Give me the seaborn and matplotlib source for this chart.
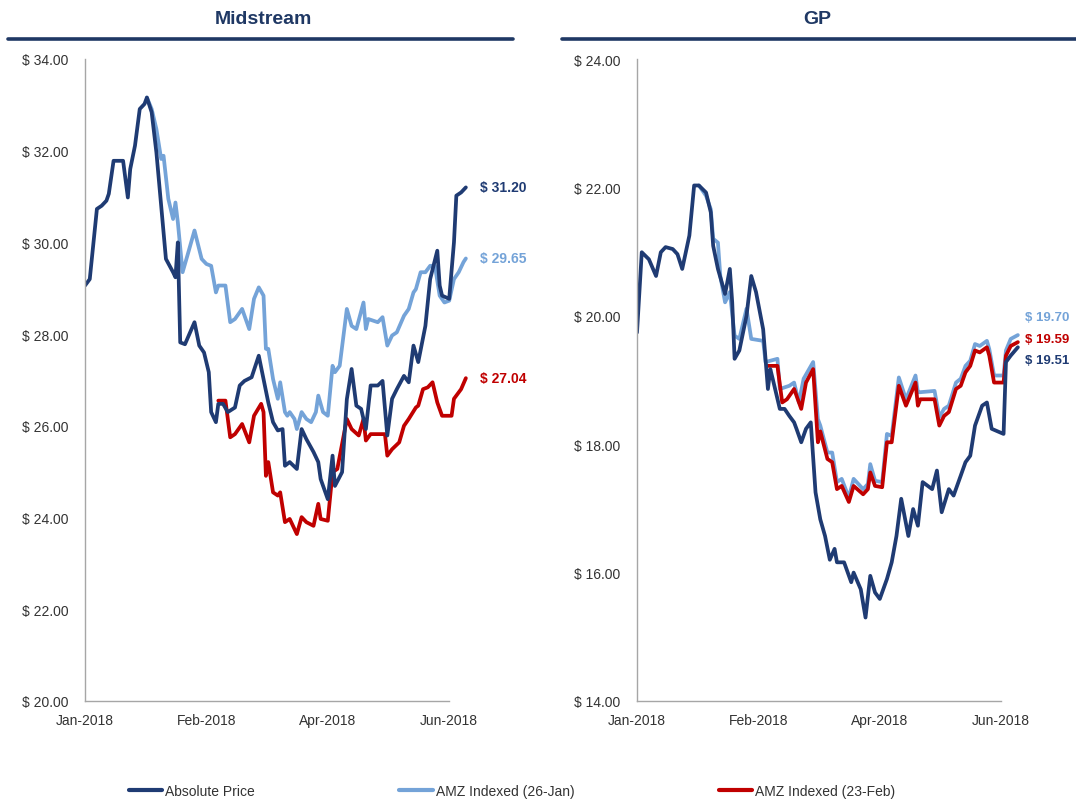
import matplotlib
matplotlib.use("Agg")
import matplotlib.pyplot as plt
import matplotlib.dates as mdates
from matplotlib.lines import Line2D
from matplotlib.ticker import FuncFormatter, MultipleLocator
import pandas as pd
import seaborn as sns

# ---------------------------------------------------------------- data
START = pd.Timestamp("2018-01-02")
tick_days = [0, 51, 102, 153]
tick_labels = ["Jan-2018", "Feb-2018", "Apr-2018", "Jun-2018"]
series_names = ["Absolute Price", "AMZ Indexed (26-Jan)", "AMZ Indexed (23-Feb)"]
series_colors = ["#1F3B73", "#74A3D8", "#C00000"]
panel_titles = ["Midstream", "GP"]
panel_ylims = [(20, 34), (14, 24)]

# Midstream (days since 2-Jan-2018, price in $)
mid_abs_days = [0, 2, 5, 7, 9, 10, 12, 16, 18, 19, 21, 23, 25, 26, 28, 30, 32, 34, 37, 38,
                39, 40, 42, 46, 48, 50, 52, 53, 55, 56, 58, 60, 63, 65, 67, 70, 73, 75, 77, 79,
                81, 83, 84, 86, 89, 91, 93, 96, 98, 99, 102, 104, 105, 108, 110, 112, 114, 116, 118, 120,
                123, 125, 127, 129, 131, 134, 136, 138, 140, 143, 145, 148, 149, 150, 153, 155, 156, 158, 160]
mid_abs = [29.06, 29.20, 30.73, 30.80, 30.91, 31.06, 31.78, 31.78, 30.98, 31.60,
           32.11, 32.91, 33.02, 33.16, 32.84, 31.96, 30.80, 29.64, 29.35, 29.24,
           30.00, 27.82, 27.78, 28.26, 27.75, 27.60, 27.17, 26.30, 26.08, 26.48,
           26.48, 26.30, 26.40, 26.88, 26.98, 27.06, 27.53, 27.02, 26.51, 26.08,
           25.90, 25.93, 25.13, 25.21, 25.06, 25.93, 25.71, 25.43, 25.21, 24.84,
           24.40, 25.35, 24.69, 24.99, 26.58, 27.24, 26.44, 26.37, 25.93, 26.88,
           26.88, 26.98, 25.79, 26.59, 26.80, 27.09, 26.95, 27.75, 27.39, 28.18,
           29.20, 29.82, 29.06, 28.84, 28.77, 30.00, 31.02, 31.09, 31.20]

mid_jan_days = [26, 28, 30, 32, 33, 35, 37, 38, 39, 41, 43, 46, 49, 51, 53, 55, 56, 59, 61, 63,
                66, 69, 71, 73, 75, 76, 77, 79, 81, 82, 84, 85, 86, 88, 89, 91, 93, 95, 97, 98,
                100, 102, 104, 105, 107, 110, 112, 114, 117, 118, 119, 123, 125, 127, 129, 131, 134, 136, 138, 139,
                141, 143, 145, 147, 149, 151, 153, 155, 157, 159, 160]
mid_jan = [33.16, 32.91, 32.47, 31.82, 31.89, 30.95, 30.51, 30.87, 30.44, 29.35,
           29.71, 30.26, 29.64, 29.53, 29.49, 28.91, 29.06, 29.06, 28.26, 28.33,
           28.55, 28.11, 28.77, 29.02, 28.84, 27.68, 27.68, 27.02, 26.59, 26.95,
           26.30, 26.22, 26.30, 26.15, 25.93, 26.30, 26.15, 26.08, 26.30, 26.66,
           26.30, 26.22, 27.31, 27.17, 27.31, 28.55, 28.18, 28.11, 28.69, 28.11,
           28.33, 28.26, 28.37, 27.75, 27.97, 28.04, 28.40, 28.55, 28.91, 28.98,
           29.35, 29.35, 29.49, 29.49, 28.84, 28.69, 28.73, 29.20, 29.35, 29.57,
           29.65]

mid_feb_days = [56, 59, 61, 63, 66, 69, 71, 74, 75, 76, 77, 79, 81, 82, 84, 86, 89, 91, 93, 96,
                98, 99, 102, 104, 106, 110, 112, 115, 117, 118, 120, 126, 127, 129, 132, 134, 136, 139, 140, 142,
                144, 146, 148, 150, 154, 155, 158, 160]
mid_feb = [26.55, 26.55, 25.75, 25.82, 26.04, 25.64, 26.22, 26.48, 26.30, 24.91,
           25.21, 24.55, 24.48, 24.55, 23.90, 23.97, 23.64, 24.01, 23.90, 23.82,
           24.30, 23.97, 23.93, 24.99, 25.06, 26.15, 25.93, 25.79, 26.15, 25.68,
           25.82, 25.82, 25.35, 25.49, 25.64, 26.00, 26.15, 26.40, 26.44, 26.80,
           26.84, 26.95, 26.51, 26.22, 26.22, 26.59, 26.80, 27.04]

# GP
gp_abs_days = [0, 2, 5, 8, 10, 12, 15, 17, 19, 22, 24, 26, 29, 31, 32, 34, 36, 37, 39, 40,
               41, 43, 46, 48, 50, 53, 55, 56, 57, 60, 62, 64, 66, 67, 69, 71, 73, 75, 77, 79,
               81, 83, 84, 87, 90, 91, 94, 96, 98, 100, 102, 105, 107, 109, 111, 114, 116, 118, 120, 124,
               126, 128, 131, 133, 136, 138, 140, 142, 145, 147, 149, 154, 155, 157, 160]
gp_abs = [19.74, 20.99, 20.88, 20.62, 20.99, 21.07, 21.04, 20.96, 20.73, 21.25,
          22.03, 22.03, 21.92, 21.61, 21.09, 20.73, 20.47, 20.34, 20.73, 20.21,
          19.33, 19.46, 20.00, 20.62, 20.37, 19.79, 18.86, 19.17, 19.02, 18.55,
          18.55, 18.44, 18.34, 18.24, 18.03, 18.24, 18.34, 17.25, 16.83, 16.57,
          16.20, 16.37, 16.16, 16.16, 15.85, 16.00, 15.74, 15.30, 15.95, 15.69,
          15.59, 15.90, 16.16, 16.57, 17.15, 16.57, 16.99, 16.73, 17.41, 17.30,
          17.59, 16.94, 17.30, 17.20, 17.51, 17.72, 17.82, 18.29, 18.60, 18.65,
          18.24, 18.16, 19.28, 19.38, 19.51]

gp_jan_days = [26, 29, 31, 32, 34, 35, 37, 39, 41, 43, 46, 48, 53, 54, 56, 59, 60, 64, 66, 68,
               70, 74, 76, 77, 80, 82, 84, 86, 89, 91, 95, 97, 98, 100, 103, 105, 107, 110, 113, 117,
               118, 119, 125, 127, 129, 131, 134, 136, 138, 140, 142, 144, 147, 148, 150, 154, 155, 157, 160]
gp_jan = [22.03, 21.87, 21.66, 21.20, 21.14, 20.62, 20.21, 20.37, 19.69, 19.64,
          20.11, 19.64, 19.61, 19.28, 19.30, 19.33, 18.86, 18.91, 18.96, 18.65,
          19.02, 19.28, 18.39, 18.29, 17.87, 17.87, 17.41, 17.46, 17.17, 17.46,
          17.30, 17.38, 17.69, 17.43, 17.41, 18.16, 18.13, 19.04, 18.70, 19.07,
          18.81, 18.81, 18.83, 18.42, 18.55, 18.60, 18.96, 19.02, 19.22, 19.30,
          19.56, 19.53, 19.61, 19.48, 19.07, 19.07, 19.46, 19.64, 19.70]

gp_feb_days = [55, 59, 61, 63, 66, 69, 71, 74, 76, 77, 80, 82, 84, 86, 89, 91, 95, 97, 98, 100,
               103, 105, 107, 110, 113, 117, 118, 119, 125, 127, 129, 131, 134, 136, 138, 140, 142, 144, 147, 148,
               150, 154, 155, 157, 160]
gp_feb = [19.22, 19.22, 18.65, 18.70, 18.86, 18.55, 18.96, 19.17, 18.03, 18.20,
          17.77, 17.72, 17.30, 17.35, 17.10, 17.35, 17.22, 17.30, 17.56, 17.35,
          17.33, 18.03, 18.03, 18.91, 18.60, 18.96, 18.60, 18.70, 18.70, 18.29,
          18.44, 18.50, 18.86, 18.91, 19.12, 19.22, 19.46, 19.43, 19.51, 19.38,
          18.96, 18.96, 19.38, 19.53, 19.59]

panels = [
    [(mid_abs_days, mid_abs), (mid_jan_days, mid_jan), (mid_feb_days, mid_feb)],
    [(gp_abs_days, gp_abs), (gp_jan_days, gp_jan), (gp_feb_days, gp_feb)],
]
# offsets (points) for the end-of-line value labels
label_dx = [10, 5]
label_dy = [[0, 0, 0], [-9, 13, 2]]
label_size = [10, 9.5]

# ---------------------------------------------------------------- style
sns.set_theme(style="white")
plt.rcParams["font.family"] = ["Liberation Sans", "DejaVu Sans"]

TITLE_BLUE = "#1F3864"
AXIS_GREY = "#A6A6A6"
TEXT_GREY = "#333333"

W, H = 1076, 804
fig = plt.figure(figsize=(W / 100, H / 100), dpi=100)
fig.patch.set_facecolor("white")

axes_px = [(85, 388), (637, 388)]
bottom_px, top_px = 702, 60


def to_dates(days):
    return START + pd.to_timedelta(days, unit="D")


for p, (ax_left, ax_width) in enumerate(axes_px):
    ax = fig.add_axes([ax_left / W, 1 - bottom_px / H, ax_width / W, (bottom_px - top_px) / H])
    frames = [
        pd.DataFrame({"date": to_dates(d), "price": v, "series": series_names[i]})
        for i, (d, v) in enumerate(panels[p])
    ]
    # light blue first, then red, dark blue on top
    for i in [1, 2, 0]:
        sns.lineplot(data=frames[i], x="date", y="price", color=series_colors[i],
                     linewidth=2.7, estimator=None, sort=False, ax=ax, legend=False)

    lo, hi = panel_ylims[p]
    ax.set_ylim(lo, hi)
    ax.yaxis.set_major_locator(MultipleLocator(2))
    ax.yaxis.set_major_formatter(FuncFormatter(lambda v, _: f"$ {v:.2f}"))

    ax.set_xlim(START, START + pd.Timedelta(days=163))
    ax.set_xticks(to_dates(tick_days))
    ax.set_xticklabels(tick_labels)

    for side in ["top", "right"]:
        ax.spines[side].set_visible(False)
    for side in ["left", "bottom"]:
        ax.spines[side].set_color(AXIS_GREY)
        ax.spines[side].set_linewidth(1.0)
    ax.spines["bottom"].set_bounds(mdates.date2num(START),
                                   mdates.date2num(START + pd.Timedelta(days=tick_days[-1])))
    ax.tick_params(axis="both", direction="out", length=4, width=1, color=AXIS_GREY,
                   labelsize=10, labelcolor=TEXT_GREY)
    ax.tick_params(axis="y", pad=8)
    ax.tick_params(axis="x", pad=5)
    ax.set_xlabel("")
    ax.set_ylabel("")
    ax.grid(False)

    # value labels at the end of each line
    for i, (d, v) in enumerate(panels[p]):
        ax.annotate(f"$ {v[-1]:.2f}", xy=(to_dates([d[-1]])[0], v[-1]),
                    xytext=(label_dx[p], label_dy[p][i]), textcoords="offset points",
                    color=series_colors[i], fontsize=label_size[p], fontweight="bold",
                    va="center", ha="left", annotation_clip=False)

# panel headers with rules underneath
title_x = [263, 817]
rules = [(8, 513), (562, 1076)]
for p in range(2):
    fig.text(title_x[p] / W, 1 - 19 / H, panel_titles[p], ha="center", va="center",
             fontsize=14, fontweight="bold", color=TITLE_BLUE)
    x0, x1 = rules[p]
    fig.add_artist(Line2D([x0 / W, x1 / W], [1 - 40 / H, 1 - 40 / H],
                          color=TITLE_BLUE, linewidth=2.6, transform=fig.transFigure))

handles = [Line2D([0], [0], color=c, linewidth=3) for c in series_colors]
fig.legend(handles, series_names, loc="center", bbox_to_anchor=(512 / W, 1 - 792 / H),
           ncol=3, frameon=False, fontsize=10, handlelength=2.4, handletextpad=0.2,
           columnspacing=10.4, labelcolor=TEXT_GREY)

fig.savefig("out.png", dpi=100, facecolor="white")
